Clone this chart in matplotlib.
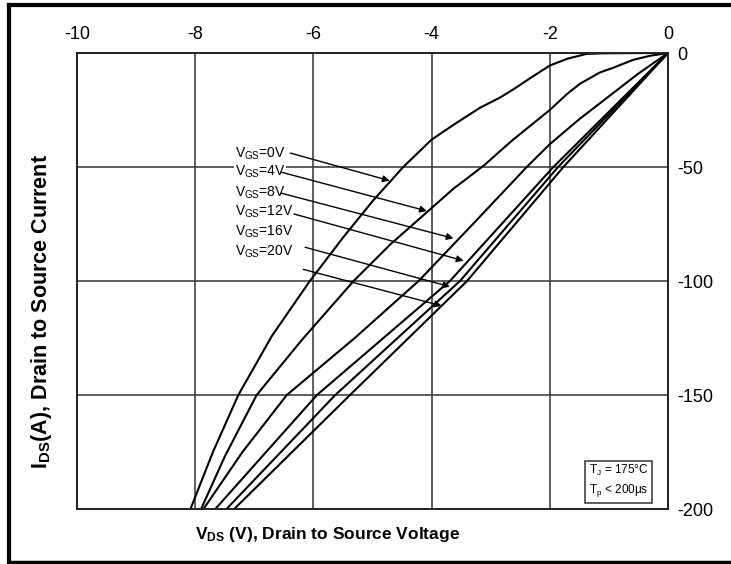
import matplotlib
matplotlib.use("Agg")
import matplotlib.pyplot as plt
from matplotlib.lines import Line2D

plt.rcParams['font.family'] = ['Liberation Sans', 'DejaVu Sans']
plt.rcParams['mathtext.fontset'] = 'custom'
plt.rcParams['mathtext.rm'] = 'Liberation Sans'
plt.rcParams['mathtext.bf'] = 'Liberation Sans:bold'

# ---- data ----
vgs_labels = ["0V", "4V", "8V", "12V", "16V", "20V"]

v_0V = [0, -0.6, -1.1, -1.38, -1.7, -2.0, -2.3, -2.62, -2.84, -3.18, -3.6, -4.0,
        -4.48, -5.0, -5.5, -6.06, -6.7, -7.27, -7.7, -8.08]
i_0V = [0, -0.05, -0.15, -0.4, -2.5, -5.5, -10.5, -16, -19.5, -24, -31, -38,
        -50, -65, -81, -100, -124, -150, -175, -200]

v_4V = [0, -0.3, -0.59, -0.93, -1.15, -1.49, -1.71, -2.0, -2.62, -2.84, -3.1,
        -3.4, -3.63, -4.0, -4.7, -5.32, -6.2, -6.96, -7.5, -7.9]
i_4V = [0, -1.2, -3, -6.5, -8.5, -13.5, -18, -25, -38, -43, -49,
        -55, -59.5, -68, -84, -100, -126, -150, -177, -200]

v_8V = [0, -0.5, -1.0, -1.5, -2.0, -2.39, -3.3, -4.22, -5.3, -6.45, -7.2, -7.86]
i_8V = [0, -9, -19, -29, -40, -50, -75, -100, -125, -150, -175, -200]

v_12V = [0, -1.94, -3.69, -5.94, -7.66]
i_12V = [0, -50, -100, -150, -200]

v_16V = [0, -1.86, -3.52, -5.63, -7.47]
i_16V = [0, -50, -100, -150, -200]

v_20V = [0, -1.77, -3.40, -5.38, -7.34]
i_20V = [0, -50, -100, -150, -200]

x_ticks = [-10, -8, -6, -4, -2, 0]
y_ticks = [0, -50, -100, -150, -200]

# label positions and arrow (start, end) in data units
label_y = [-44, -52.3, -61.1, -69.6, -78.4, -87.2]
arrow_start = [(-6.39, -43.9), (-6.54, -52.3), (-6.54, -61.5),
               (-6.33, -70.6), (-6.14, -85.2), (-6.17, -94.9)]
arrow_end = [(-4.71, -56.0), (-4.08, -69.3), (-3.63, -81.3),
             (-3.46, -91.1), (-3.69, -102.5), (-3.83, -110.9)]

curves = [(v_0V, i_0V), (v_4V, i_4V), (v_8V, i_8V),
          (v_12V, i_12V), (v_16V, i_16V), (v_20V, i_20V)]

W, H = 731, 564
fig = plt.figure(figsize=(W / 100, H / 100), dpi=100)
ax = fig.add_axes([77 / W, 1 - 509 / H, (668 - 77) / W, (509 - 53) / H])

ax.set_xlim(-10, 0)
ax.set_ylim(-200, 0)
ax.set_xticks(x_ticks)
ax.set_yticks(y_ticks)
ax.xaxis.tick_top()
ax.yaxis.tick_right()
ax.tick_params(axis='both', length=0, labelsize=13)
ax.tick_params(axis='x', pad=7)
ax.tick_params(axis='y', pad=7)
ax.set_xticklabels([str(t) for t in x_ticks])
ax.set_yticklabels([str(t) for t in y_ticks])
for lab in ax.get_yticklabels():
    lab.set_horizontalalignment('left')

ax.grid(True, color='#333333', linewidth=1.1)
ax.set_axisbelow(True)
for s in ax.spines.values():
    s.set_linewidth(1.4)
    s.set_color('#222222')

for v, i in curves:
    ax.plot(v, i, color='black', linewidth=1.5, solid_capstyle='round',
            solid_joinstyle='round')

for lbl, ly, st, en in zip(vgs_labels, label_y, arrow_start, arrow_end):
    ax.text(-7.33, ly, r"$\mathregular{V_{GS}}$=" + lbl, fontsize=10,
            ha='left', va='center',
            bbox=dict(facecolor='white', edgecolor='none', pad=0.5))
    ax.annotate("", xy=en, xytext=st,
                arrowprops=dict(arrowstyle='-|>', color='black', lw=1.0,
                                mutation_scale=10, shrinkA=0, shrinkB=0))

ax.text(-0.84, -187.7, "$\\mathregular{T_J}$ = 175\u00b0C\n$\\mathregular{T_p}$ < 200\u03bcs",
        fontsize=8.5, ha='center', va='center', linespacing=1.45,
        bbox=dict(boxstyle='square,pad=0.3', facecolor='white',
                  edgecolor='#333333', linewidth=1.1))

fig.text(195 / W, 1 - 534 / H, r"$\mathregular{V_{DS}}$ (V), Drain to Source Voltage",
         fontsize=12.5, fontweight='bold', ha='left', va='center')
fig.text(42 / W, 1 - 312 / H, r"$\mathregular{I_{DS}}$(A), Drain to Source Current",
         fontsize=15.5, fontweight='bold', ha='center', va='center', rotation=90)

# outer frame (left, top, bottom)
fig.add_artist(Line2D([9 / W, 9 / W], [1 - 562 / H, 1 - 5 / H], transform=fig.transFigure,
                      color='black', linewidth=3))
fig.add_artist(Line2D([9 / W, 1.0], [1 - 5 / H, 1 - 5 / H], transform=fig.transFigure,
                      color='black', linewidth=3))
fig.add_artist(Line2D([9 / W, 1.0], [1 - 562 / H, 1 - 562 / H], transform=fig.transFigure,
                      color='black', linewidth=2.5))

fig.savefig("out.png", dpi=100)
